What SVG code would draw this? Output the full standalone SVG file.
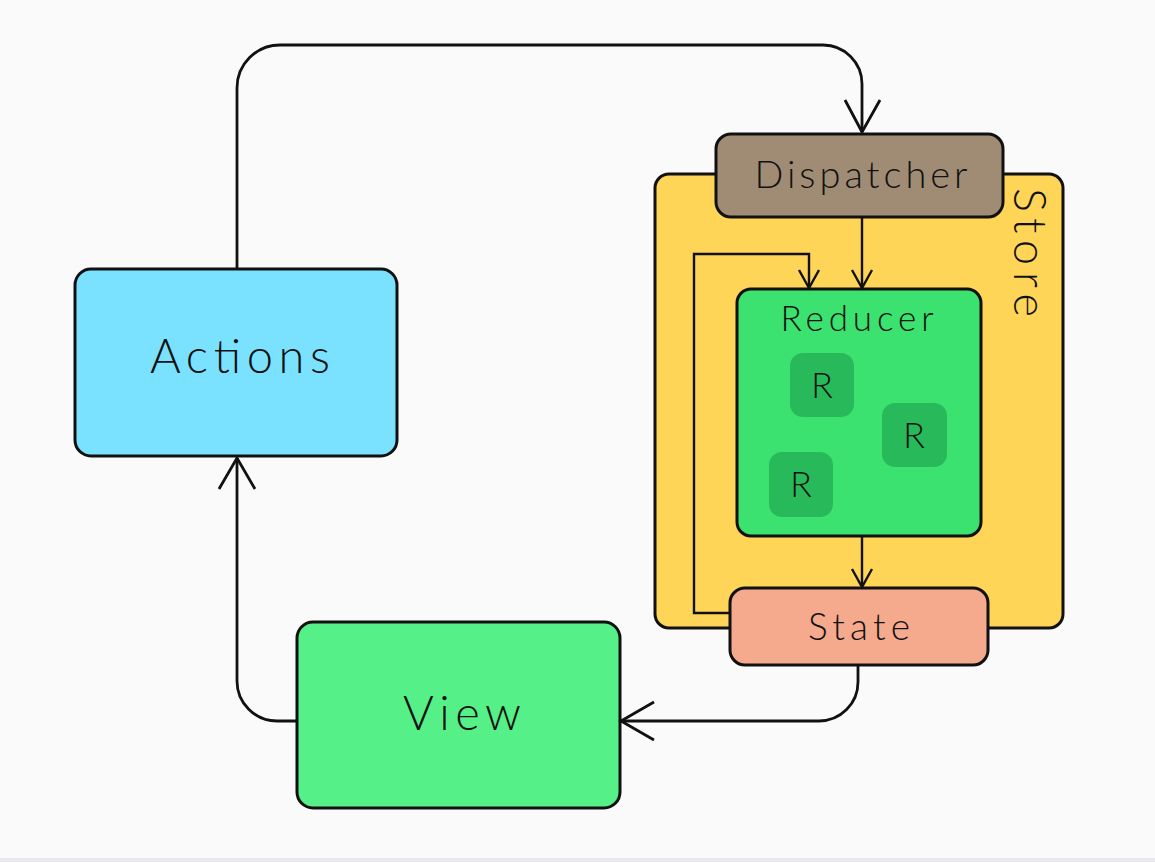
<svg xmlns="http://www.w3.org/2000/svg" width="1155" height="862" viewBox="0 0 1155 862">
  <style>
    .box { stroke: #111; stroke-width: 3; }
    .lbl { font-family: Lato, "Open Sans", "Liberation Sans", sans-serif; font-weight: 300; fill: #111; text-anchor: middle; }
    .con { fill: none; stroke: #111; stroke-width: 2.8; }
    .conS { fill: none; stroke: #111; stroke-width: 2.4; }
    .sub { fill: #28b95a; }
  </style>
  <rect x="0" y="0" width="1155" height="862" fill="#fafafa"/>
  <rect x="0" y="858" width="1155" height="4" fill="#e8e9ec"/>

  <g id="store">
    <rect class="box" x="655" y="174" width="408" height="454" rx="14" fill="#ffd558"/>
    <text class="lbl" x="1014" y="188" font-size="45" style="text-anchor:start" textLength="129" lengthAdjust="spacing" transform="rotate(90 1014 188)">Store</text>
  </g>

  <g id="actions">
    <rect class="box" x="75" y="269" width="322" height="187" rx="16" fill="#7ae2ff"/>
    <text class="lbl" x="240" y="373" font-size="47" textLength="180" lengthAdjust="spacing">Actions</text>
  </g>

  <g id="dispatcher">
    <rect class="box" x="716" y="134" width="287" height="83" rx="15" fill="#a08c74"/>
    <text class="lbl" x="861" y="188" font-size="38" textLength="213" lengthAdjust="spacing">Dispatcher</text>
  </g>

  <g id="reducer">
    <rect class="box" x="737" y="289" width="244" height="247" rx="14" fill="#3be26f"/>
    <text class="lbl" x="857" y="331" font-size="35" textLength="153" lengthAdjust="spacing">Reducer</text>
    <rect class="sub" x="790" y="353" width="64" height="64" rx="13"/>
    <text class="lbl" x="822" y="398" font-size="36">R</text>
    <rect class="sub" x="882" y="403" width="65" height="64" rx="13"/>
    <text class="lbl" x="914" y="448" font-size="36">R</text>
    <rect class="sub" x="769" y="452" width="64" height="65" rx="13"/>
    <text class="lbl" x="801" y="497" font-size="36">R</text>
  </g>

  <g id="state">
    <rect class="box" x="730" y="588" width="258" height="77" rx="15" fill="#f5a98d"/>
    <text class="lbl" x="859" y="640" font-size="37" textLength="102" lengthAdjust="spacing">State</text>
  </g>

  <g id="view">
    <rect class="box" x="297" y="622" width="323" height="186" rx="16" fill="#55f087"/>
    <text class="lbl" x="462" y="730" font-size="47" textLength="118" lengthAdjust="spacing">View</text>
  </g>

  <g id="connectors">
    <!-- Actions -> Dispatcher -->
    <path class="con" d="M237 269 V88 A43 43 0 0 1 280 45 H823 A39 39 0 0 1 862 84 V132"/>
    <path class="con" d="M845 100 L862 132 L880 100"/>
    <!-- Dispatcher -> Reducer -->
    <path class="conS" d="M862 217 V288"/>
    <path class="conS" d="M852 270 L862 288 L872 270"/>
    <!-- State -> Reducer (loop) -->
    <path class="conS" d="M730 613 H694 V254 H809 V288"/>
    <path class="conS" d="M799 270 L809 288 L819 270"/>
    <!-- Reducer -> State -->
    <path class="conS" d="M862 536 V587"/>
    <path class="conS" d="M852 569 L862 587 L872 569"/>
    <!-- State -> View -->
    <path class="con" d="M858 665 V682 A39 39 0 0 1 819 721 H621"/>
    <path class="con" d="M654 702 L621 721 L654 740"/>
    <!-- View -> Actions -->
    <path class="con" d="M297 721 H277 A40 40 0 0 1 237 681 V458"/>
    <path class="con" d="M219 489 L237 458 L255 489"/>
  </g>
</svg>
